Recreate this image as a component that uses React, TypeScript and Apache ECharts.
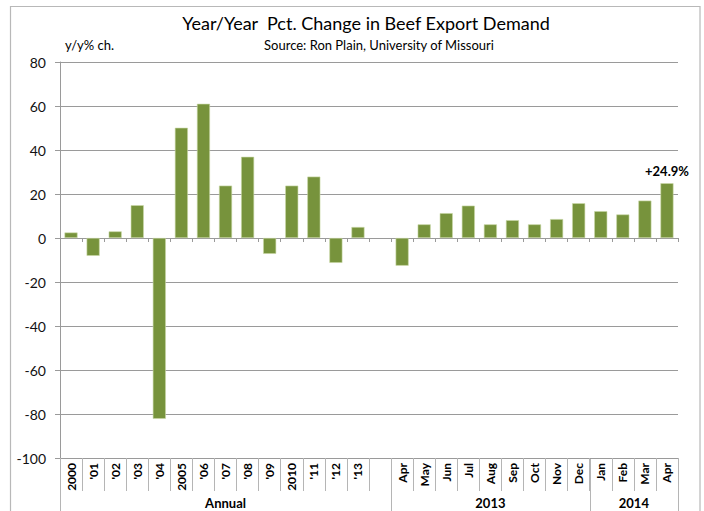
import React, { useEffect, useRef } from "react";
import * as echarts from "echarts";

const categories = [
  "2000", "'01", "'02", "'03", "'04", "2005", "'06", "'07", "'08", "'09", "2010", "'11", "'12", "'13", "",
  "Apr", "May", "Jun", "Jul", "Aug", "Sep", "Oct", "Nov", "Dec",
  "Jan", "Feb", "Mar", "Apr",
];
const values: (number | null)[] = [
  2.5, -8.1, 3.0, 14.9, -82.2, 50.1, 61.0, 23.8, 36.9, -7.2, 23.8, 27.9, -11.3, 5.0, null,
  -12.6, 6.2, 11.3, 14.7, 6.2, 8.1, 6.2, 8.6, 15.8,
  12.2, 10.7, 17.0, 24.9,
];
const groupNames = ["Annual", "2013", "2014"];
const groupSpans = [15, 9, 4];
const yMin = -100;
const yMax = 80;
const yStep = 20;
const lastLabel = "+24.9%";

const FONT = "Lato";
const GRID_COLOR = "#9a9a9a";

export default function App() {
  const ref = useRef<HTMLDivElement>(null);
  useEffect(() => {
    if (!ref.current) return;
    const chart = echarts.init(ref.current, null, { renderer: "svg" });
    const seriesData = values.map((v, i) =>
      i === values.length - 1
        ? {
            value: v,
            label: {
              show: true,
              position: "top",
              distance: 6,
              formatter: lastLabel,
              fontFamily: FONT,
              fontWeight: "bold",
              fontSize: 13,
              color: "#000",
            },
          }
        : v
    );
    const option: any = {
      animation: false,
      backgroundColor: "#fff",
      grid: { left: 60, right: 26, top: 62, bottom: 53, containLabel: false, outerBoundsMode: "none" },
      xAxis: [
        {
          type: "category",
          data: categories,
          position: "bottom",
          axisLine: { show: true, onZero: true, lineStyle: { color: GRID_COLOR, width: 1 } },
          axisTick: { show: true, length: 4, interval: 0, lineStyle: { color: GRID_COLOR } },
          axisLabel: { show: false },
          splitLine: { show: false },
        },
        {
          type: "category",
          data: categories,
          position: "bottom",
          axisLine: { show: true, onZero: false, lineStyle: { color: GRID_COLOR, width: 1 } },
          axisTick: { show: true, length: 33, interval: 0, lineStyle: { color: "#b5b5b5" } },
          axisLabel: {
            show: true,
            interval: 0,
            rotate: 90,
            margin: 5,
            fontFamily: FONT,
            fontWeight: "bold",
            fontSize: 12,
            color: "#000",
          },
          splitLine: { show: false },
        },
      ],
      yAxis: {
        type: "value",
        min: yMin,
        max: yMax,
        interval: yStep,
        axisLine: { show: true, lineStyle: { color: GRID_COLOR, width: 1 } },
        axisTick: { show: true, length: 5, lineStyle: { color: GRID_COLOR } },
        axisLabel: { margin: 14, fontFamily: FONT, fontSize: 14, color: "#111" },
        splitLine: { show: true, lineStyle: { color: GRID_COLOR, width: 1 } },
      },
      series: [
        {
          type: "bar",
          xAxisIndex: 0,
          data: seriesData,
          barCategoryGap: "41%",
          itemStyle: { color: "#77933C", borderColor: "#c9d9a6", borderWidth: 0.6 },
        },
      ],
    };
    chart.setOption(option);

    const c0 = chart.convertToPixel({ xAxisIndex: 1 }, 0) as number;
    const c1 = chart.convertToPixel({ xAxisIndex: 1 }, 1) as number;
    const band = c1 - c0;
    const start = c0 - band / 2;
    const yBottom = chart.convertToPixel({ yAxisIndex: 0 }, yMin) as number;
    const H = 511;

    const graphics: any[] = [
      {
        type: "rect",
        shape: { x: 10.5, y: 6.5, width: 689.5, height: 520 },
        style: { fill: "none", stroke: "#b8b8b8", lineWidth: 1.2 },
        silent: true,
      },
      {
        type: "text",
        x: 366,
        y: 23,
        style: {
          text: "Year/Year  Pct. Change in Beef Export Demand",
          fontFamily: FONT,
          fontSize: 18,
          fill: "#000",
          align: "center",
          verticalAlign: "middle",
        },
      },
      {
        type: "text",
        x: 379,
        y: 45,
        style: {
          text: "Source: Ron Plain, University of Missouri",
          fontFamily: FONT,
          fontSize: 13,
          fill: "#000",
          align: "center",
          verticalAlign: "middle",
        },
      },
      {
        type: "text",
        x: 65,
        y: 45,
        style: {
          text: "y/y% ch.",
          fontFamily: FONT,
          fontSize: 13,
          fill: "#000",
          align: "left",
          verticalAlign: "middle",
        },
      },
    ];
    let acc = 0;
    const bounds = [0];
    groupSpans.forEach((s) => {
      acc += s;
      bounds.push(acc);
    });
    bounds.forEach((b) => {
      const x = Math.round(start + b * band) + 0.5;
      graphics.push({
        type: "line",
        shape: { x1: x, y1: yBottom, x2: x, y2: H },
        style: { stroke: "#b5b5b5", lineWidth: 1 },
        silent: true,
      });
    });
    groupNames.forEach((name, gi) => {
      const mid = start + ((bounds[gi] + bounds[gi + 1]) / 2) * band;
      graphics.push({
        type: "text",
        x: mid,
        y: 503,
        style: {
          text: name,
          fontFamily: FONT,
          fontWeight: "bold",
          fontSize: 13,
          fill: "#000",
          align: "center",
          verticalAlign: "middle",
        },
      });
    });
    chart.setOption({ graphic: graphics });

    return () => chart.dispose();
  }, []);
  return (
    <div
      ref={ref}
      style={{ position: "fixed", left: 0, top: 0, width: 704, height: 511 }}
    />
  );
}
